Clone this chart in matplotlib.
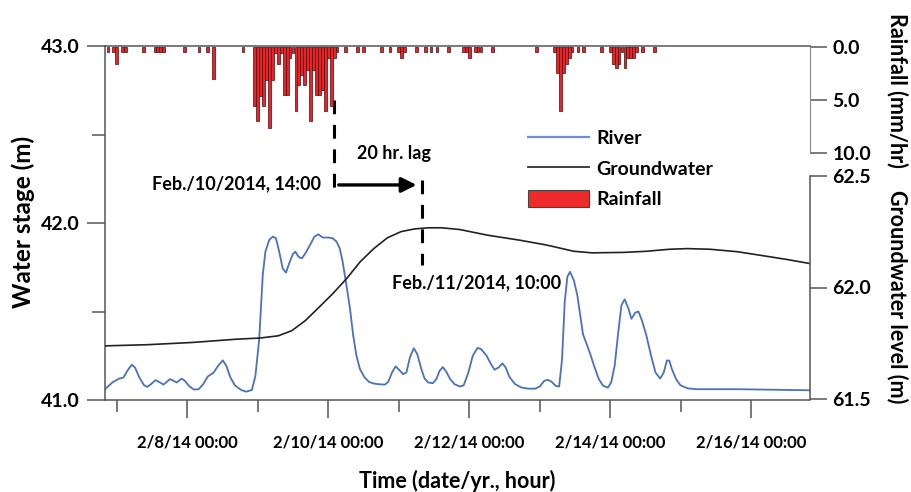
import pandas as pd
import matplotlib
matplotlib.use("Agg")
import matplotlib.pyplot as plt
import matplotlib.dates as mdates
from matplotlib.lines import Line2D
from matplotlib.patches import Patch

plt.rcParams["font.family"] = ["Lato", "DejaVu Sans"]
plt.rcParams["font.weight"] = "bold"

START = pd.Timestamp("2014-02-07 00:00")

# river stage (m) vs hours after 2/7/14 00:00
river_hours = [-4, -1.5, 0.8, 2.3, 3.6, 5.1, 6.2, 7.7, 9.3, 10.4, 11.6, 13.2, 14.4, 15.9, 17.0,
               18.1, 19.4, 20.4, 22.1, 23.2, 24.8, 26.3, 27.9, 29.4, 31.0, 33.0, 34.5, 36.1,
               37.3, 38.7, 40.2, 42.3, 44.1, 46.0, 47.2, 48.5, 49.7, 50.6, 51.9, 53.1, 54.2,
               55.3, 56.5, 57.6, 58.7, 59.9, 60.8, 61.9, 63.0, 64.2, 65.8, 67.3, 68.6, 70.1,
               72.0, 73.5, 74.8, 75.9, 76.9, 78.2, 79.4, 80.5, 81.6, 82.8, 84.4, 85.9, 87.5,
               89.3, 91.3, 92.4, 93.7, 94.9, 96.1, 97.5, 98.6, 99.8, 101.1, 102.3, 103.7,
               104.8, 106.0, 107.6, 108.8, 109.9, 111.0, 112.2, 113.5, 115.0, 116.9, 118.1,
               119.7, 121.2, 122.8, 124.0, 125.9, 127.4, 128.6, 130.0, 131.3, 132.4, 133.6,
               135.5, 137.8, 140.1, 142.4, 144.0, 145.5, 146.8, 148.1, 149.4, 150.6, 151.6,
               152.5, 153.4, 154.3, 155.6, 156.8, 158.7, 161.0, 162.5, 164.1, 165.6, 167.2,
               168.3, 169.5, 170.6, 171.8, 172.9, 174.2, 175.2, 176.5, 177.6, 178.8, 180.3,
               181.9, 183.4, 185.0, 186.2, 187.3, 188.1, 189.0, 190.4, 191.9, 194.3, 197.4,
               211.3, 226.8, 236.0]
river_stage = [41.061, 41.099, 41.121, 41.127, 41.165, 41.199, 41.184, 41.127, 41.083, 41.074,
               41.089, 41.112, 41.102, 41.087, 41.102, 41.118, 41.108, 41.099, 41.121, 41.108,
               41.076, 41.059, 41.061, 41.089, 41.133, 41.155, 41.193, 41.224, 41.193, 41.127,
               41.083, 41.057, 41.047, 41.057, 41.136, 41.345, 41.705, 41.838, 41.904, 41.923,
               41.914, 41.838, 41.743, 41.720, 41.772, 41.823, 41.838, 41.809, 41.800, 41.828,
               41.876, 41.923, 41.936, 41.918, 41.918, 41.914, 41.895, 41.857, 41.781, 41.648,
               41.516, 41.364, 41.250, 41.174, 41.127, 41.102, 41.093, 41.089, 41.087, 41.102,
               41.155, 41.190, 41.171, 41.146, 41.155, 41.241, 41.292, 41.260, 41.174, 41.121,
               41.099, 41.095, 41.118, 41.165, 41.186, 41.159, 41.118, 41.089, 41.076, 41.083,
               41.155, 41.250, 41.294, 41.288, 41.250, 41.203, 41.171, 41.184, 41.207, 41.184,
               41.133, 41.091, 41.070, 41.064, 41.064, 41.076, 41.108, 41.114, 41.102, 41.080,
               41.076, 41.231, 41.554, 41.696, 41.724, 41.677, 41.591, 41.373, 41.269, 41.193,
               41.118, 41.080, 41.070, 41.099, 41.193, 41.364, 41.535, 41.569, 41.516, 41.459,
               41.493, 41.500, 41.449, 41.364, 41.250, 41.155, 41.121, 41.155, 41.224, 41.222,
               41.174, 41.118, 41.083, 41.066, 41.061, 41.061, 41.057, 41.055]

# groundwater level (m)
gw_hours = [-4, 10.1, 25.5, 41.0, 48.8, 55.0, 59.6, 64.2, 68.9, 73.5, 78.2, 82.8, 87.5, 92.1,
            96.8, 101.4, 106.0, 110.7, 116.9, 126.2, 137.0, 146.3, 155.6, 161.8, 172.6, 180.3,
            188.1, 194.3, 202.0, 211.3, 220.6, 228.3, 236.0]
gw_level = [61.739, 61.744, 61.754, 61.769, 61.774, 61.784, 61.807, 61.852, 61.912, 61.972,
            62.039, 62.114, 62.174, 62.222, 62.250, 62.262, 62.267, 62.267, 62.259, 62.234,
            62.212, 62.190, 62.162, 62.155, 62.157, 62.162, 62.171, 62.174, 62.171, 62.160,
            62.141, 62.125, 62.107]

# hourly rainfall (mm/hr)
rain_hours = [-3, -1, 0, 2, 3, 9, 13, 14, 15, 16, 23, 28, 31, 33, 43,
              47, 48, 49, 50, 51, 52, 53, 54, 55, 56, 57, 58, 59, 60, 61, 62, 63, 64, 65,
              66, 67, 68, 69, 70, 71, 72, 73, 74, 75, 78, 82, 84, 90, 93, 96, 97, 98, 102,
              105, 107, 109, 113, 118, 119, 120, 122, 123, 124, 128, 143, 149, 150, 151,
              152, 153, 154, 155, 157, 159, 165, 168, 169, 170, 171, 172, 173, 174, 175,
              176, 177, 179, 183]
rain_mm = [0.5, 0.5, 1.6, 0.5, 0.5, 0.5, 0.5, 0.5, 0.5, 0.5, 0.5, 0.5, 0.5, 3.0, 0.5,
           5.6, 7.0, 4.6, 5.6, 3.1, 7.6, 3.1, 0.6, 1.6, 0.6, 4.5, 4.5, 1.1, 0.6, 6.0, 3.6,
           2.7, 3.6, 2.2, 7.0, 2.2, 4.5, 4.5, 4.1, 6.0, 1.1, 5.6, 1.1, 0.5, 0.5, 0.5, 0.5,
           0.5, 0.5, 0.5, 1.1, 0.5, 0.5, 0.5, 0.5, 0.5, 0.5, 0.5, 0.5, 1.1, 0.5, 0.5, 0.5,
           0.5, 0.5, 0.5, 2.5, 6.0, 2.5, 1.6, 1.1, 0.5, 0.5, 0.5, 0.5, 0.5, 1.6, 2.0, 1.6,
           0.5, 2.0, 1.1, 1.1, 1.1, 0.5, 0.5, 0.5]


def to_time(hours):
    return START + pd.to_timedelta(hours, unit="h")


def main():
    river_t = to_time(river_hours)
    gw_t = to_time(gw_hours)
    rain_t = to_time(rain_hours)
    x0, x1 = to_time(-4), to_time(236)

    W, H = 912, 492
    fig = plt.figure(figsize=(W / 100, H / 100), dpi=100)
    L, R = 105, 810
    ax = fig.add_axes([L / W, 1 - 400 / H, (R - L) / W, 354 / H])
    ax_rain = fig.add_axes([L / W, 1 - 153.3 / H, (R - L) / W, 106.6 / H], sharex=ax)
    ax_gw = fig.add_axes([L / W, 1 - 399.3 / H, (R - L) / W, 223.6 / H], sharex=ax)

    spine_c = "#555555"
    tick_kw = dict(colors=spine_c, labelcolor="black", width=1.1)

    # main axis: water stage
    ax.plot(river_t, river_stage, color="#4a70c4", lw=1.3)
    ax.set_xlim(x0, x1)
    ax.set_ylim(41.0, 43.0)
    ax.set_yticks([41.0, 42.0, 43.0])
    ax.set_yticks([41.5, 42.5], minor=True)
    ax.yaxis.set_major_formatter(plt.FormatStrFormatter("%.1f"))
    ax.spines["right"].set_visible(False)
    for s in ["left", "top", "bottom"]:
        ax.spines[s].set_color(spine_c)
        ax.spines[s].set_linewidth(1.1)
    ax.tick_params(axis="y", which="major", length=13, pad=5, labelsize=14, **tick_kw)
    ax.tick_params(axis="y", which="minor", length=9.5, **tick_kw)
    ax.xaxis.set_major_locator(mdates.DayLocator(bymonthday=[8, 10, 12, 14, 16]))
    ax.xaxis.set_minor_locator(mdates.DayLocator())
    ax.xaxis.set_major_formatter(mdates.DateFormatter("%-m/%-d/%y %H:%M"))
    ax.tick_params(axis="x", which="major", length=13, pad=12, labelsize=12, **tick_kw)
    ax.tick_params(axis="x", which="minor", length=8.6, **tick_kw)
    ax.set_ylabel("Water stage (m)", fontsize=17.5, fontweight="bold", va="center")
    ax.yaxis.set_label_coords(-0.1163, 0.503)
    ax.set_xlabel("Time (date/yr., hour)", fontsize=15.5, fontweight="bold", va="center")
    ax.xaxis.set_label_coords(0.499, -0.229)

    # rainfall axis (inverted, hanging from the top)
    ax_rain.bar(rain_t, rain_mm, width=0.95 / 24, color="#e8242a",
                edgecolor="#4a0a0a", linewidth=0.5)
    ax_rain.set_ylim(10, 0)
    ax_rain.set_yticks([0, 5, 10])
    ax_rain.yaxis.set_major_formatter(plt.FormatStrFormatter("%.1f"))
    ax_rain.patch.set_visible(False)
    for s in ["left", "top", "bottom"]:
        ax_rain.spines[s].set_visible(False)
    ax_rain.spines["right"].set_color("#888888")
    ax_rain.yaxis.tick_right()
    ax_rain.tick_params(axis="y", length=12.2, pad=4, labelsize=14, **tick_kw)
    ax_rain.tick_params(axis="x", which="both", bottom=False, labelbottom=False)
    ax_rain.set_ylabel("Rainfall (mm/hr)", fontsize=15.5, fontweight="bold",
                       rotation=270, ha="center", va="center")
    ax_rain.yaxis.set_label_coords(1.1234, 0.59)

    # groundwater axis
    ax_gw.plot(gw_t, gw_level, color="#222222", lw=1.2)
    ax_gw.set_ylim(61.5, 62.5)
    ax_gw.set_yticks([61.5, 62.0, 62.5])
    ax_gw.yaxis.set_major_formatter(plt.FormatStrFormatter("%.1f"))
    ax_gw.patch.set_visible(False)
    for s in ["left", "top", "bottom"]:
        ax_gw.spines[s].set_visible(False)
    ax_gw.spines["right"].set_color(spine_c)
    ax_gw.spines["right"].set_linewidth(1.1)
    ax_gw.yaxis.tick_right()
    ax_gw.tick_params(axis="y", length=12.2, pad=4, labelsize=14, **tick_kw)
    ax_gw.tick_params(axis="x", which="both", bottom=False, labelbottom=False)
    ax_gw.set_ylabel("Groundwater level (m)", fontsize=15.5, fontweight="bold",
                     rotation=270, ha="center", va="center")
    ax_gw.yaxis.set_label_coords(1.1234, 0.4575)

    # lag annotation (water stage units on the main axis)
    t1, t2 = to_time(74.1), to_time(103.8)
    ax.plot([t1, t1], [42.695, 42.186], color="black", lw=2.2, dashes=(4.5, 3.5))
    ax.plot([t2, t2], [42.243, 41.763], color="black", lw=2.2, dashes=(4.5, 3.5))
    ax.annotate("", xy=(to_time(103.0), 42.215), xytext=(to_time(74.6), 42.215),
                arrowprops=dict(arrowstyle="-|>,head_length=0.9,head_width=0.45",
                                color="black", lw=2.4))
    ax.text(to_time(94.4), 42.395, "20 hr. lag", ha="center", va="center", fontsize=13)
    ax.text(to_time(69.6), 42.22, "Feb./10/2014, 14:00", ha="right", va="center",
            fontsize=13)
    ax.text(to_time(93.8), 41.661, "Feb./11/2014, 10:00", ha="left", va="center",
            fontsize=13)

    handles = [Line2D([], [], color="#6f8fcf", lw=1.6),
               Line2D([], [], color="#333333", lw=1.3),
               Patch(facecolor="#ee2a2a", edgecolor="#444444", linewidth=0.8)]
    fig.legend(handles, ["River", "Groundwater", "Rainfall"], loc="upper left",
               bbox_to_anchor=(528 / W, 1 - 129 / H), frameon=False, fontsize=14,
               handlelength=3.15, handleheight=1.0, handletextpad=0.35,
               labelspacing=0.62, borderpad=0, borderaxespad=0)

    fig.savefig("out.png", dpi=100)
    plt.close(fig)


if __name__ == "__main__":
    main()
